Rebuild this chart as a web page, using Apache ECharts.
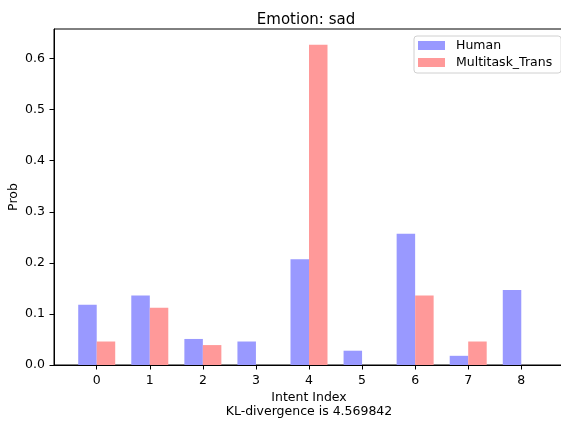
<!DOCTYPE html>
<html>
<head>
<meta charset="utf-8">
<script src="https://cdn.jsdelivr.net/npm/echarts@6/dist/echarts.min.js"></script>
<style>html,body{margin:0;padding:0;background:#fff}#c{width:561px;height:421px}</style>
</head>
<body>
<div id="c"></div>
<script>
const categories = [0, 1, 2, 3, 4, 5, 6, 7, 8];
const humanValues = [0.118, 0.136, 0.051, 0.046, 0.207, 0.028, 0.257, 0.018, 0.147];
const transValues = [0.046, 0.112, 0.039, 0, 0.627, 0, 0.136, 0.046, 0];
const yTicks = [0, 0.1, 0.2, 0.3, 0.4, 0.5, 0.6];
const titleText = 'Emotion: sad';
const xName = 'Intent Index\nKL-divergence is 4.569842';
const yName = 'Prob';
const seriesNames = ['Human', 'Multitask_Trans'];

const FONT = 'DejaVu Sans';
const chart = echarts.init(document.getElementById('c'), null, {renderer: 'canvas'});
chart.setOption({
  animation: false,
  backgroundColor: '#fff',
  title: {
    text: titleText, left: 301, top: 6, textAlign: 'center',
    textStyle: {fontFamily: FONT, fontSize: 15, fontWeight: 'normal', color: '#000', lineHeight: 18}
  },
  legend: {
    orient: 'vertical', left: 414, top: 36,
    itemWidth: 27, itemHeight: 9, itemGap: 4,
    padding: [3, 9, 4, 4],
    borderColor: '#d0d0d0', borderWidth: 1, borderRadius: 3, backgroundColor: '#fff',
    textStyle: {fontFamily: FONT, fontSize: 12.5, color: '#000', padding: [0, 0, 0, 6]},
    data: seriesNames.map(n => ({name: n, icon: 'rect'}))
  },
  grid: {left: 54, top: 29, width: 510, bottom: 56, show: true, borderColor: '#000', borderWidth: 1,
         containLabel: false, outerBoundsMode: 'none'},
  xAxis: {
    type: 'value', min: -0.805, max: 8.805,
    name: xName, nameLocation: 'middle', nameGap: 26, nameMoveOverlap: false,
    nameTextStyle: {fontFamily: FONT, fontSize: 12.5, color: '#000', lineHeight: 13.5},
    axisLine: {show: true, onZero: false, lineStyle: {color: '#000', width: 1}},
    axisTick: {show: true, length: 4.5, customValues: categories, lineStyle: {color: '#000'}},
    axisLabel: {customValues: categories, margin: 9, fontFamily: FONT, fontSize: 12.5, color: '#000', formatter: v => String(Math.round(v))},
    splitLine: {show: false}
  },
  yAxis: {
    type: 'value', min: 0, max: 0.658, interval: 0.1,
    name: yName, nameLocation: 'middle', nameGap: 34, nameRotate: 90, nameMoveOverlap: false,
    nameTextStyle: {fontFamily: FONT, fontSize: 12.5, color: '#000'},
    axisLine: {show: true, onZero: false, lineStyle: {color: '#000', width: 1}},
    axisTick: {show: true, length: 4.5, lineStyle: {color: '#000'}},
    axisLabel: {showMaxLabel: false, margin: 9, fontFamily: FONT, fontSize: 12.5, color: '#000', formatter: v => v.toFixed(1)},
    splitLine: {show: false}
  },
  series: [
    {name: seriesNames[0], type: 'bar', barWidth: 18.5, barGap: '0%',
     itemStyle: {color: '#9999ff'},
     data: categories.map((c, i) => [c, humanValues[i]])},
    {name: seriesNames[1], type: 'bar', barWidth: 18.5, barGap: '0%',
     itemStyle: {color: '#ff9999'},
     data: categories.map((c, i) => [c, transValues[i]])}
  ]
});
</script>
</body>
</html>
